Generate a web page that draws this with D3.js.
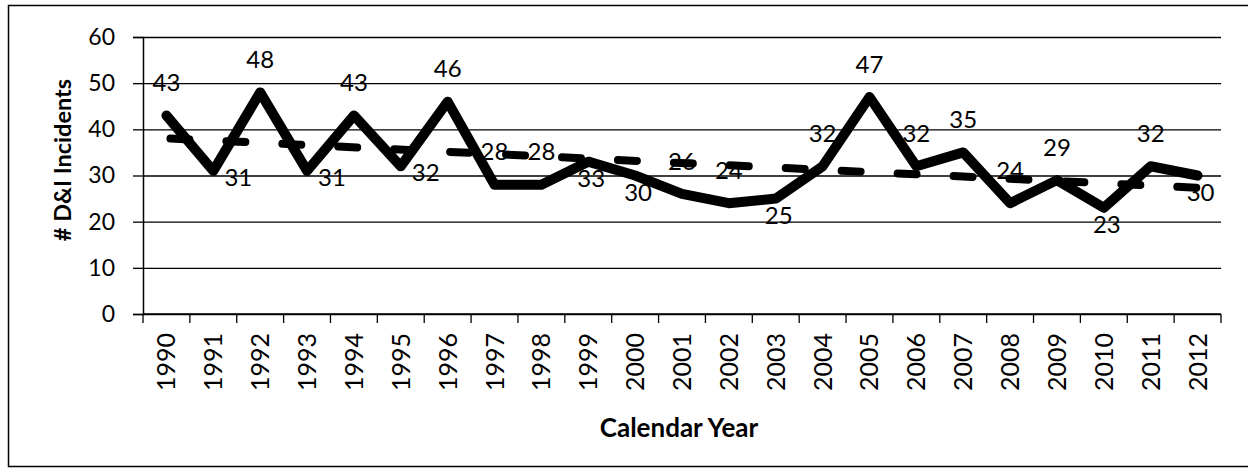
<!DOCTYPE html>
<html>
<head>
<meta charset="utf-8">
<script src="https://cdn.jsdelivr.net/npm/d3@7"></script>
<style>
  html, body { margin: 0; padding: 0; background: #fff; }
  svg { display: block; }
  text { font-family: Lato, "Open Sans", sans-serif; fill: #000; }
</style>
</head>
<body>
<script>
// ---- data ----
const years = ["1990","1991","1992","1993","1994","1995","1996","1997","1998","1999","2000","2001","2002","2003","2004","2005","2006","2007","2008","2009","2010","2011","2012"];
const incidents = [43,31,48,31,43,32,46,28,28,33,30,26,24,25,32,47,32,35,24,29,23,32,30];
const labelPos = ["above","right","above","right","above","right","above","above","above","below","below","above","above","below","above","above","above","above","above","above","below","above","below"];
const yTicks = [0,10,20,30,40,50,60];
const yTitle = "# D&I Incidents";
const xTitle = "Calendar Year";

// ---- layout ----
const W = 1248, H = 470;
const svg = d3.select("body").append("svg").attr("width", W).attr("height", H);

// outer frame (right edge falls outside the picture, as in the reference)
svg.append("rect").attr("x", 8.5).attr("y", 5.5).attr("width", 1260).attr("height", 461)
  .attr("fill", "none").attr("stroke", "#000").attr("stroke-width", 1.5);

const plot = {left: 143, right: 1221, top: 37, bottom: 314};

const x = d3.scaleBand().domain(years).range([plot.left, plot.right]).padding(0);
const y = d3.scaleLinear().domain([0, 60]).range([plot.bottom, plot.top]);
const cx = d => x(d) + x.bandwidth() / 2;

// gridlines
svg.append("g").attr("transform", `translate(${plot.left},0)`)
  .call(d3.axisLeft(y).tickValues(yTicks).tickSize(-(plot.right - plot.left)).tickFormat(""))
  .call(g => g.select(".domain").remove())
  .call(g => g.selectAll("line").attr("stroke", "#000").attr("stroke-width", 1.3));

// y axis with ticks and labels
const yAxis = svg.append("g").attr("transform", `translate(${plot.left},0)`)
  .call(d3.axisLeft(y).tickValues(yTicks).tickSize(10).tickPadding(18));
yAxis.select(".domain").attr("stroke", "#000").attr("stroke-width", 1.5);
yAxis.selectAll("line").attr("stroke", "#000").attr("stroke-width", 1.3);
yAxis.selectAll("text").attr("font-size", 23).attr("font-family", "Lato").attr("fill", "#000");

// x axis line
svg.append("line").attr("x1", plot.left).attr("x2", plot.right)
  .attr("y1", plot.bottom).attr("y2", plot.bottom).attr("stroke", "#000").attr("stroke-width", 1.5);

// x tick marks at band boundaries
const boundaries = years.map(d => x(d)).concat([x(years[years.length - 1]) + x.bandwidth()]);
svg.append("g").selectAll("line").data(boundaries).join("line")
  .attr("x1", d => d).attr("x2", d => d)
  .attr("y1", plot.bottom).attr("y2", plot.bottom + 9)
  .attr("stroke", "#000").attr("stroke-width", 1.3);

// x tick labels (rotated)
svg.append("g").selectAll("text").data(years).join("text")
  .attr("transform", d => `translate(${cx(d)},333) rotate(-90)`)
  .attr("text-anchor", "end")
  .attr("dy", "0.36em")
  .attr("font-size", 25)
  .text(d => d);

// axis titles
svg.append("text")
  .attr("transform", `translate(71,160) rotate(-90)`)
  .attr("text-anchor", "middle")
  .attr("font-weight", "bold")
  .attr("font-size", 23.5)
  .text(yTitle);

svg.append("text")
  .attr("x", 679).attr("y", 437)
  .attr("text-anchor", "middle")
  .attr("font-weight", "bold")
  .attr("font-size", 26)
  .text(xTitle);

// linear trend (least squares over category index)
const n = incidents.length;
const idx = d3.range(n);
const mx = d3.mean(idx), my = d3.mean(incidents);
const slope = d3.sum(idx, i => (i - mx) * (incidents[i] - my)) / d3.sum(idx, i => (i - mx) ** 2);
const intercept = my - slope * mx;
const trend = [0, n - 1].map(i => ({year: years[i], v: intercept + slope * i}));

svg.append("path")
  .datum(trend)
  .attr("d", d3.line().x(d => cx(d.year)).y(d => y(d.v)))
  .attr("fill", "none").attr("stroke", "#000").attr("stroke-width", 8)
  .attr("stroke-linecap", "round")
  .attr("stroke-dasharray", "19,37")
  .attr("stroke-dashoffset", -4);

// main series line
const pts = years.map((yr, i) => ({year: yr, v: incidents[i], pos: labelPos[i]}));
svg.append("path")
  .datum(pts)
  .attr("d", d3.line().x(d => cx(d.year)).y(d => y(d.v)))
  .attr("fill", "none").attr("stroke", "#000").attr("stroke-width", 10)
  .attr("stroke-linejoin", "round").attr("stroke-linecap", "round");

// data labels
const off = {above: [0, -33], below: [3, 17], right: [25, 6]};
svg.append("g").selectAll("text").data(pts).join("text")
  .attr("x", d => cx(d.year) + off[d.pos][0])
  .attr("y", d => y(d.v) + off[d.pos][1])
  .attr("dy", "0.36em")
  .attr("text-anchor", "middle")
  .attr("font-size", 24)
  .text(d => d.v);
</script>
</body>
</html>
